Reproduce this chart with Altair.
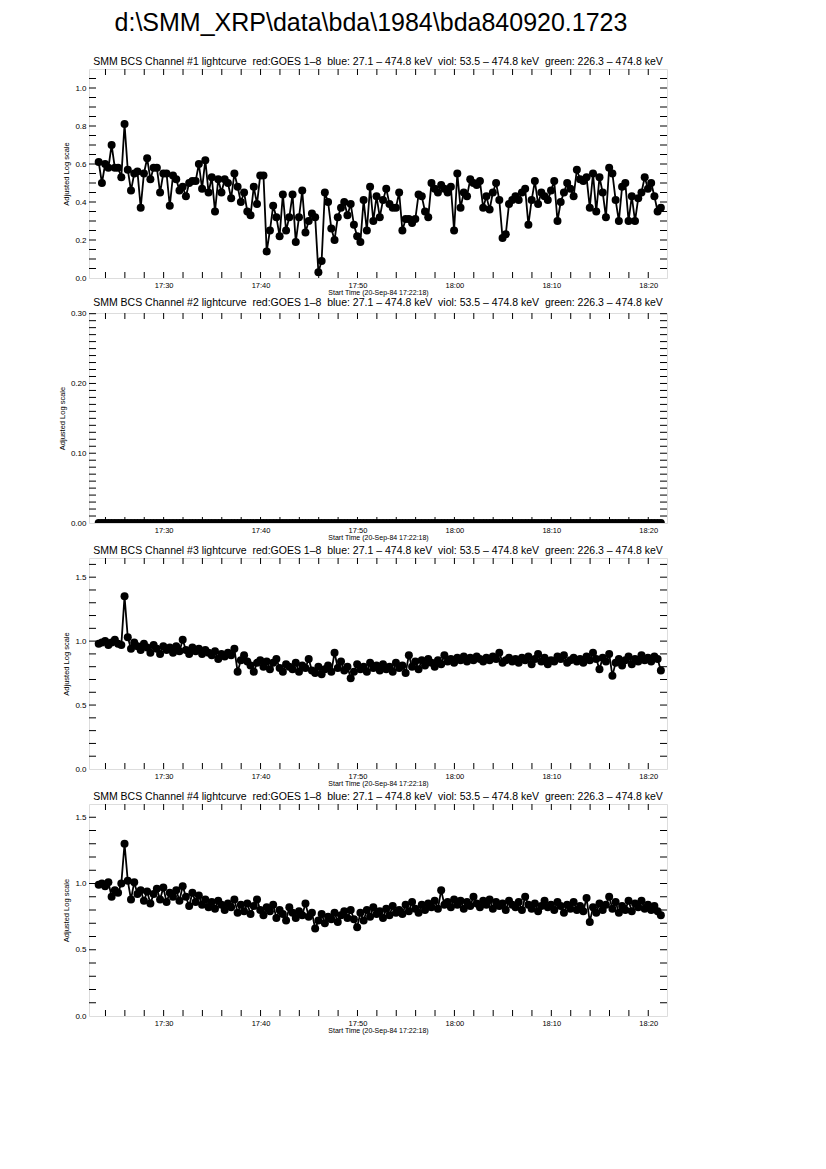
import altair as alt
import pandas as pd

# ---------------- data ----------------
FIRST_SAMPLE = "1984-09-20T17:23:18"   # first plotted sample
CADENCE = "20s"                        # sample spacing

CH1 = [
    0.61, 0.50, 0.60, 0.58, 0.70, 0.58, 0.58, 0.53, 0.81, 0.57, 0.46, 0.55,
    0.56, 0.37, 0.55, 0.63, 0.52, 0.58, 0.58, 0.45, 0.55, 0.55, 0.38, 0.54,
    0.52, 0.46, 0.48, 0.43, 0.50, 0.51, 0.51, 0.60, 0.47, 0.62, 0.45, 0.53,
    0.35, 0.52, 0.45, 0.52, 0.50, 0.42, 0.55, 0.48, 0.40, 0.45, 0.35, 0.33,
    0.48, 0.39, 0.54, 0.54, 0.14, 0.25, 0.38, 0.32, 0.22, 0.44, 0.25, 0.32,
    0.44, 0.19, 0.32, 0.46, 0.24, 0.30, 0.34, 0.32, 0.03, 0.09, 0.45, 0.40,
    0.26, 0.20, 0.32, 0.37, 0.40, 0.33, 0.39, 0.28, 0.22, 0.19, 0.41, 0.25,
    0.48, 0.30, 0.43, 0.32, 0.41, 0.47, 0.39, 0.37, 0.37, 0.45, 0.25, 0.31,
    0.31, 0.29, 0.31, 0.44, 0.43, 0.35, 0.32, 0.50, 0.47, 0.45, 0.49, 0.47,
    0.45, 0.48, 0.25, 0.55, 0.37, 0.45, 0.43, 0.52, 0.50, 0.49, 0.51, 0.37,
    0.43, 0.36, 0.45, 0.50, 0.41, 0.21, 0.23, 0.39, 0.41, 0.43, 0.41, 0.45,
    0.47, 0.28, 0.41, 0.51, 0.39, 0.45, 0.43, 0.41, 0.46, 0.51, 0.30, 0.40,
    0.45, 0.50, 0.47, 0.43, 0.57, 0.52, 0.51, 0.53, 0.37, 0.55, 0.35, 0.53,
    0.45, 0.32, 0.58, 0.55, 0.41, 0.30, 0.48, 0.50, 0.30, 0.43, 0.30, 0.42,
    0.45, 0.53, 0.47, 0.50, 0.43, 0.35, 0.37,
]

CH2 = [
    0.0, 0.0, 0.0, 0.0, 0.0, 0.0, 0.0, 0.0, 0.0, 0.0, 0.0, 0.0, 0.0, 0.0, 0.0,
    0.0, 0.0, 0.0, 0.0, 0.0, 0.0, 0.0, 0.0, 0.0, 0.0, 0.0, 0.0, 0.0, 0.0, 0.0,
    0.0, 0.0, 0.0, 0.0, 0.0, 0.0, 0.0, 0.0, 0.0, 0.0, 0.0, 0.0, 0.0, 0.0, 0.0,
    0.0, 0.0, 0.0, 0.0, 0.0, 0.0, 0.0, 0.0, 0.0, 0.0, 0.0, 0.0, 0.0, 0.0, 0.0,
    0.0, 0.0, 0.0, 0.0, 0.0, 0.0, 0.0, 0.0, 0.0, 0.0, 0.0, 0.0, 0.0, 0.0, 0.0,
    0.0, 0.0, 0.0, 0.0, 0.0, 0.0, 0.0, 0.0, 0.0, 0.0, 0.0, 0.0, 0.0, 0.0, 0.0,
    0.0, 0.0, 0.0, 0.0, 0.0, 0.0, 0.0, 0.0, 0.0, 0.0, 0.0, 0.0, 0.0, 0.0, 0.0,
    0.0, 0.0, 0.0, 0.0, 0.0, 0.0, 0.0, 0.0, 0.0, 0.0, 0.0, 0.0, 0.0, 0.0, 0.0,
    0.0, 0.0, 0.0, 0.0, 0.0, 0.0, 0.0, 0.0, 0.0, 0.0, 0.0, 0.0, 0.0, 0.0, 0.0,
    0.0, 0.0, 0.0, 0.0, 0.0, 0.0, 0.0, 0.0, 0.0, 0.0, 0.0, 0.0, 0.0, 0.0, 0.0,
    0.0, 0.0, 0.0, 0.0, 0.0, 0.0, 0.0, 0.0, 0.0, 0.0, 0.0, 0.0, 0.0, 0.0, 0.0,
    0.0, 0.0, 0.0, 0.0, 0.0, 0.0, 0.0, 0.0, 0.0, 0.0,
]

CH3 = [
    0.98, 0.99, 1.00, 0.97, 0.99, 1.01, 0.98, 0.97, 1.35, 1.03, 0.94, 0.99,
    0.96, 0.93, 0.98, 0.95, 0.91, 0.97, 0.94, 0.90, 0.96, 0.93, 0.95, 0.91,
    0.96, 0.92, 1.01, 0.93, 0.90, 0.95, 0.92, 0.94, 0.90, 0.93, 0.91, 0.89,
    0.92, 0.86, 0.90, 0.88, 0.91, 0.89, 0.94, 0.76, 0.85, 0.89, 0.84, 0.81,
    0.76, 0.83, 0.85, 0.80, 0.84, 0.78, 0.83, 0.86, 0.79, 0.76, 0.82, 0.80,
    0.78, 0.83, 0.76, 0.81, 0.79, 0.86, 0.77, 0.75, 0.80, 0.74, 0.78, 0.81,
    0.76, 0.91, 0.79, 0.84, 0.77, 0.80, 0.71, 0.76, 0.82, 0.78, 0.80, 0.76,
    0.83, 0.79, 0.81, 0.77, 0.82, 0.78, 0.80, 0.76, 0.83, 0.79, 0.81, 0.75,
    0.89, 0.80, 0.84, 0.78, 0.85, 0.81, 0.86, 0.83, 0.80, 0.85, 0.82, 0.89,
    0.84, 0.86, 0.83, 0.87, 0.85, 0.88, 0.84, 0.87, 0.85, 0.88, 0.86, 0.84,
    0.87, 0.85, 0.88, 0.86, 0.91, 0.83, 0.85, 0.87, 0.84, 0.86, 0.83, 0.87,
    0.85, 0.88, 0.82, 0.86, 0.90, 0.84, 0.87, 0.82, 0.85, 0.84, 0.88, 0.86,
    0.89, 0.83, 0.85, 0.87, 0.84, 0.86, 0.83, 0.88, 0.85, 0.91, 0.86, 0.78,
    0.87, 0.84, 0.90, 0.73, 0.83, 0.86, 0.81, 0.85, 0.88, 0.82, 0.86, 0.84,
    0.89, 0.85, 0.87, 0.84, 0.88, 0.86, 0.77,
]

CH4 = [
    0.99, 1.00, 0.98, 1.01, 0.90, 0.95, 0.93, 1.00, 1.30, 1.02, 0.88, 1.01,
    0.92, 0.95, 0.87, 0.94, 0.85, 0.92, 0.96, 0.88, 0.97, 0.86, 0.93, 0.90,
    0.95, 0.87, 0.98, 0.90, 0.83, 0.93, 0.86, 0.91, 0.84, 0.88, 0.82, 0.86,
    0.81, 0.87, 0.84, 0.80, 0.85, 0.82, 0.88, 0.78, 0.84, 0.79, 0.85, 0.77,
    0.83, 0.88, 0.80, 0.76, 0.82, 0.79, 0.84, 0.74, 0.80, 0.77, 0.72, 0.82,
    0.78, 0.74, 0.79, 0.76, 0.85, 0.75, 0.78, 0.66, 0.72, 0.77, 0.70, 0.75,
    0.73, 0.78, 0.71, 0.76, 0.79, 0.74, 0.80, 0.73, 0.67, 0.78, 0.72, 0.80,
    0.75, 0.82, 0.77, 0.79, 0.74, 0.81, 0.76, 0.83, 0.78, 0.80, 0.77, 0.84,
    0.79, 0.86, 0.81, 0.78, 0.84, 0.80, 0.85, 0.82, 0.87, 0.81, 0.95, 0.84,
    0.86, 0.82, 0.88, 0.84, 0.87, 0.81, 0.86, 0.83, 0.90, 0.85, 0.82, 0.87,
    0.84, 0.88, 0.81, 0.86, 0.83, 0.85, 0.80, 0.87, 0.84, 0.82, 0.86, 0.80,
    0.90, 0.84, 0.81, 0.85, 0.79, 0.83, 0.87, 0.82, 0.84, 0.80, 0.86, 0.83,
    0.78, 0.84, 0.81, 0.86, 0.80, 0.83, 0.79, 0.89, 0.71, 0.82, 0.78, 0.85,
    0.80, 0.84, 0.90, 0.81, 0.86, 0.78, 0.83, 0.80, 0.87, 0.79, 0.85, 0.82,
    0.87, 0.81, 0.84, 0.80, 0.83, 0.79, 0.76,
]

SP2 = " \u00a0"  # a double space that survives SVG whitespace collapsing
PANEL_TITLES = [
    ("SMM BCS Channel #{} lightcurve" + SP2 + "red:GOES 1\u20138" + SP2
     + "blue: 27.1 \u2013 474.8 keV" + SP2 + "viol: 53.5 \u2013 474.8 keV" + SP2
     + "green: 226.3 \u2013 474.8 keV").format(i)
    for i in (1, 2, 3, 4)
]
MAIN_TITLE = "d:\\SMM_XRP\\data\\bda\\1984\\bda840920.1723"
X_TITLE = "Start Time (20-Sep-84 17:22:18)"
Y_TITLE = "Adjusted Log scale"

X_DOMAIN = ["1984-09-20T17:22:18", "1984-09-20T18:21:56"]
X_LABEL_HM = [(17, 30), (17, 40), (17, 50), (18, 0), (18, 10), (18, 20)]
X_MINOR_FROM, X_MINOR_TO = "1984-09-20T17:24:00", "1984-09-20T18:20:00"

Y_DOMAINS = [[0, 1.1], [0, 0.301], [0, 1.65], [0, 1.6]]
Y_LABELS = [[0.0, 0.2, 0.4, 0.6, 0.8, 1.0],
            [0.0, 0.05, 0.10, 0.15, 0.20, 0.25, 0.30],
            [0.0, 0.5, 1.0, 1.5],
            [0.0, 0.5, 1.0, 1.5]]
Y_FORMATS = [".1f", ".2f", ".1f", ".1f"]
Y_MINOR_STEPS = [0.05, 0.01, 0.1, 0.1]

# ---------------- layout / style ----------------
W = 578
HEIGHTS = [209, 210, 211, 212]
FONT = "Liberation Sans"
TICK_Y = 7
TICK_X = 6

times = pd.date_range(FIRST_SAMPLE, periods=len(CH1), freq=CADENCE)
tstr = [t.strftime("%Y-%m-%dT%H:%M:%S") for t in times]
xticks = [t.strftime("%Y-%m-%dT%H:%M:%S")
          for t in pd.date_range(X_MINOR_FROM, X_MINOR_TO, freq="2min")]
xtick_df = pd.DataFrame({"t": xticks})
xlabel_vals = [alt.DateTime(year=1984, month=9, date=20, hours=h, minutes=m)
               for h, m in X_LABEL_HM]

xscale = alt.Scale(domain=X_DOMAIN, nice=False)


def panel(i, values):
    H = HEIGHTS[i]
    yscale = alt.Scale(domain=Y_DOMAINS[i], nice=False, zero=False)
    df = pd.DataFrame({"t": tstr, "v": values})
    lo, hi = Y_DOMAINS[i]
    step = Y_MINOR_STEPS[i]
    n = int(round((hi - lo) / step))
    ytick_df = pd.DataFrame({"v": [round(lo + k * step, 4) for k in range(1, n + 1)
                                   if lo + k * step < hi - 1e-9]})

    x_axis = alt.Axis(values=xlabel_vals, format="%H:%M", ticks=False, domain=False,
                      grid=False, labelFontSize=7.5, labelFont=FONT, labelColor="black",
                      labelPadding=3, labelFlush=False, title=X_TITLE, titleFont=FONT,
                      titleFontSize=7, titleFontWeight="normal", titleColor="black",
                      titlePadding=0)
    y_axis = alt.Axis(values=Y_LABELS[i], format=Y_FORMATS[i], ticks=False, domain=False,
                      grid=False, labelFontSize=8, labelFont=FONT, labelColor="black",
                      labelPadding=3, labelFlush=False, title=Y_TITLE, titleFont=FONT,
                      titleFontSize=7.5, titleFontWeight="normal", titleColor="black",
                      titlePadding=4)

    base = alt.Chart(df)
    line = base.mark_line(color="black", strokeWidth=1.8, clip=True).encode(
        x=alt.X("t:T", scale=xscale, axis=x_axis),
        y=alt.Y("v:Q", scale=yscale, axis=y_axis),
    )
    pts = base.mark_circle(color="black", opacity=1, size=64, clip=True).encode(
        x=alt.X("t:T", scale=xscale),
        y=alt.Y("v:Q", scale=yscale),
    )
    yt = alt.Chart(ytick_df)
    ytl = yt.mark_rule(color="black", strokeWidth=1).encode(
        y=alt.Y("v:Q", scale=yscale), x=alt.value(0), x2=alt.value(TICK_Y))
    ytr = yt.mark_rule(color="black", strokeWidth=1).encode(
        y=alt.Y("v:Q", scale=yscale), x=alt.value(W - TICK_Y), x2=alt.value(W))
    xt = alt.Chart(xtick_df)
    xtb = xt.mark_rule(color="black", strokeWidth=1).encode(
        x=alt.X("t:T", scale=xscale), y=alt.value(H), y2=alt.value(H - TICK_X))
    xtt = xt.mark_rule(color="black", strokeWidth=1).encode(
        x=alt.X("t:T", scale=xscale), y=alt.value(0), y2=alt.value(TICK_X))

    return alt.layer(line, pts, ytl, ytr, xtb, xtt).properties(
        width=W, height=H,
        title=alt.TitleParams(PANEL_TITLES[i], font=FONT, fontSize=10.5,
                              fontWeight="normal", color="black", anchor="middle",
                              offset=1),
    )


panels = [panel(i, v) for i, v in enumerate([CH1, CH2, CH3, CH4])]

chart = alt.vconcat(*panels, spacing=35, bounds="flush").properties(
    title=alt.TitleParams(MAIN_TITLE, font=FONT, fontSize=25, fontWeight="normal",
                          color="black", anchor="middle", offset=21, dx=8),
    padding={"left": 49, "top": 2, "right": 5, "bottom": 5},
).configure_view(stroke="black", strokeWidth=1).configure(background="white")

chart.save("out.html", embed_options={"renderer": "svg", "actions": False})
